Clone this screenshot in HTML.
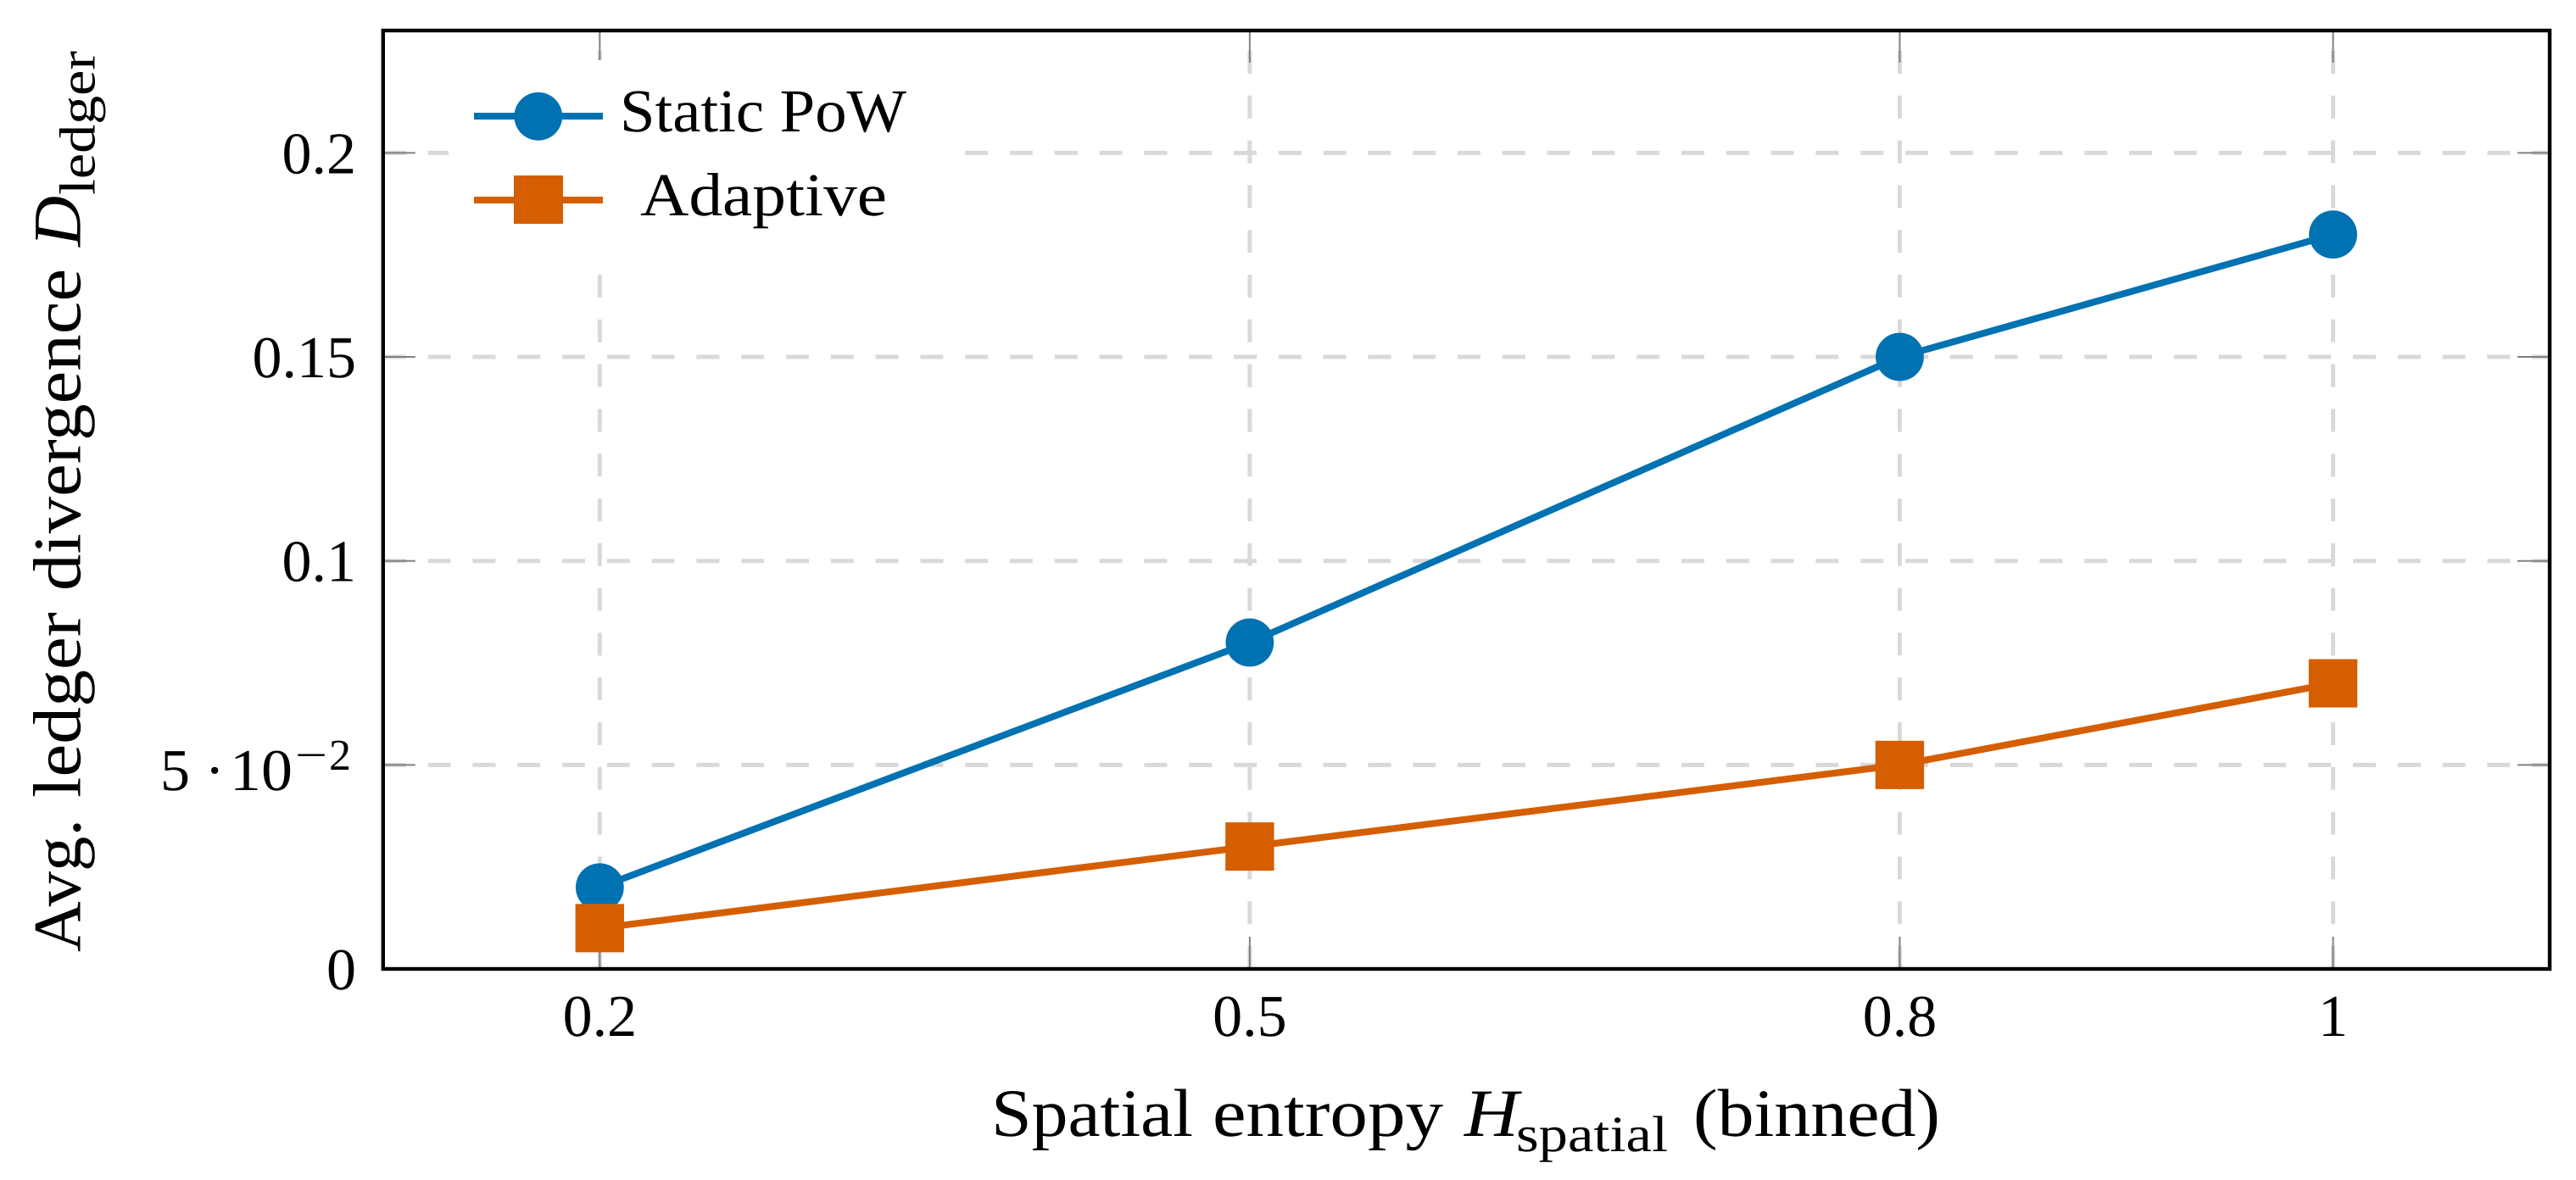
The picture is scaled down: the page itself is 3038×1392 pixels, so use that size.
<!DOCTYPE html>
<html lang="en">
<head>
<meta charset="utf-8">
<title>Average ledger divergence vs spatial entropy</title>
<style>
  html, body { margin: 0; padding: 0; background: #ffffff; }
  svg { display: block; }
  text { font-family: "Liberation Serif", "DejaVu Serif", serif; fill: #000000; text-rendering: geometricPrecision; }
  .it { font-style: italic; }
</style>
</head>
<body>
<svg id="chart" xmlns="http://www.w3.org/2000/svg" width="3038" height="1392" viewBox="0 0 3038 1392">
  <rect x="0" y="0" width="3038" height="1392" fill="#ffffff"/>
  <g id="grid"></g>
  <g id="ticks"></g>
  <g id="series"></g>

  <g>
    <rect x="529" y="71" width="586" height="230" fill="#ffffff"/>
    <g>
      <line x1="559" y1="137" x2="711" y2="137" stroke="#0072B2" stroke-width="8"/>
      <circle cx="634.8" cy="137.3" r="28.4" fill="#0072B2"/>
      <text x="731" y="155" font-size="72" textLength="338" lengthAdjust="spacingAndGlyphs">Static PoW</text>
    </g>
    <g>
      <line x1="559" y1="236" x2="711" y2="236" stroke="#D55E00" stroke-width="8"/>
      <rect x="606" y="207" width="58" height="57" fill="#D55E00"/>
      <text x="755" y="254" font-size="72" textLength="291" lengthAdjust="spacingAndGlyphs">Adaptive</text>
    </g>
  </g>

  <rect x="451.8" y="36" width="2555.2" height="1107" fill="none" stroke="#000000" stroke-width="4.4"/>
  <g id="tick-labels"></g>

  <text font-size="80" y="1340"><tspan x="1169" textLength="238" lengthAdjust="spacingAndGlyphs">Spatial</tspan> <tspan x="1430" textLength="272" lengthAdjust="spacingAndGlyphs">entropy</tspan> <tspan class="it" x="1727" textLength="64" lengthAdjust="spacingAndGlyphs">H</tspan><tspan x="1788" y="1358" font-size="60" textLength="179" lengthAdjust="spacingAndGlyphs">spatial</tspan> <tspan x="1997" y="1340" textLength="291" lengthAdjust="spacingAndGlyphs">(binned)</tspan></text>

  <text font-size="80" transform="rotate(-90)" y="94.5"><tspan x="-1123" textLength="157" lengthAdjust="spacingAndGlyphs">Avg.</tspan> <tspan x="-941" textLength="219" lengthAdjust="spacingAndGlyphs">ledger</tspan> <tspan x="-697" textLength="380" lengthAdjust="spacingAndGlyphs">divergence</tspan> <tspan class="it" x="-291" textLength="60" lengthAdjust="spacingAndGlyphs">D</tspan><tspan x="-230" y="111.7" font-size="60" textLength="170" lengthAdjust="spacingAndGlyphs">ledger</tspan></text>
</svg>

<script>
const categories = [0.2, 0.5, 0.8, 1];
const staticPow = [0.02, 0.08, 0.15, 0.18];
const adaptive = [0.01, 0.03, 0.05, 0.07];
const xTickLabels = ["0.2", "0.5", "0.8", "1"];
const yTicks = [0, 0.05, 0.1, 0.15, 0.2];
const yTickLabels = ["0", "5·10^-2", "0.1", "0.15", "0.2"];

const NS = "http://www.w3.org/2000/svg";
const plot = { left: 451.8, right: 3007, top: 36, bottom: 1143 };
const xDomain = [0.1, 1.1];
const yDomain = [0, 0.23];
const BLUE = "#0072B2";
const ORANGE = "#D55E00";
const TICK_LEN = 38;

function xScale(v) {
  return plot.left + (v - xDomain[0]) / (xDomain[1] - xDomain[0]) * (plot.right - plot.left);
}
function yScale(v) {
  return plot.bottom - (v - yDomain[0]) / (yDomain[1] - yDomain[0]) * (plot.bottom - plot.top);
}
function make(parent, tag, attrs, content) {
  const node = document.createElementNS(NS, tag);
  Object.keys(attrs).forEach(function (k) { node.setAttribute(k, attrs[k]); });
  if (content !== undefined) node.textContent = content;
  parent.appendChild(node);
  return node;
}

const gridG = document.getElementById("grid");
const ticksG = document.getElementById("ticks");
const seriesG = document.getElementById("series");
const labelsG = document.getElementById("tick-labels");

categories.forEach(function (c) {
  const x = xScale(c);
  const gl = make(gridG, "line", { x1: x, y1: plot.bottom, x2: x, y2: plot.top, stroke: "#d9d9d9", "stroke-width": 5, "stroke-dasharray": "27 25.8" });
  
  
  const tb = make(ticksG, "line", { x1: x, y1: plot.bottom, x2: x, y2: plot.bottom - TICK_LEN, stroke: "#808080", "stroke-width": 2 });
  
  
  const tt = make(ticksG, "line", { x1: x, y1: plot.top, x2: x, y2: plot.top + TICK_LEN, stroke: "#808080", "stroke-width": 2 });
  
  
});

yTicks.forEach(function (v) {
  const y = yScale(v);
  if (v > yDomain[0]) {
    const gl = make(gridG, "line", { x1: plot.left, y1: y, x2: plot.right, y2: y, stroke: "#d9d9d9", "stroke-width": 5, "stroke-dasharray": "27 25.8" });
    
    
    const tl = make(ticksG, "line", { x1: plot.left, y1: y, x2: plot.left + TICK_LEN, y2: y, stroke: "#808080", "stroke-width": 2 });
    
    
    const tr = make(ticksG, "line", { x1: plot.right, y1: y, x2: plot.right - TICK_LEN, y2: y, stroke: "#808080", "stroke-width": 2 });
    
    
  }
});

function drawLine(values, color, name) {
  const pts = values.map(function (v, i) { return xScale(categories[i]) + "," + yScale(v); }).join(" ");
  const line = make(seriesG, "polyline", { points: pts, fill: "none", stroke: color, "stroke-width": 8, "stroke-linejoin": "round" });
  
  
}

drawLine(staticPow, BLUE, 'series-line-static-pow');
staticPow.forEach(function (v, i) {
  const m = make(seriesG, "circle", { cx: xScale(categories[i]), cy: yScale(v), r: 28.4, fill: BLUE });
  
  
});

drawLine(adaptive, ORANGE, 'series-line-adaptive');
adaptive.forEach(function (v, i) {
  const m = make(seriesG, "rect", { x: xScale(categories[i]) - 28.7, y: yScale(v) - 28.5, width: 57.4, height: 57, fill: ORANGE });
  
  
});

xTickLabels.forEach(function (label, i) {
  const t = make(labelsG, "text", { x: xScale(categories[i]), y: 1222, "font-size": 70, "text-anchor": "middle" }, label);
  
  
});

function drawSciLabel(label, y) {
  const parts = label.split("^");
  const base = parts[0].split("·");
  const baseline = y + 29.5;
  const right = 420;
  const g = make(labelsG, "text", { y: baseline, "font-size": 70 });
  
  
  make(g, "tspan", { x: right - 231 }, base[0]);
  make(g, "tspan", { x: right - 178.5 }, "·");
  make(g, "tspan", { x: right - 149, textLength: 74, lengthAdjust: "spacingAndGlyphs" }, base[1]);
  const exp = parts[1].replace("-", "\u2212");
  make(g, "tspan", { x: right - 72, y: baseline - 24, "font-size": 52, textLength: 38, lengthAdjust: "spacingAndGlyphs" }, exp.charAt(0));
  make(g, "tspan", { x: right - 32, y: baseline - 24, "font-size": 52 }, exp.slice(1));
}

yTickLabels.forEach(function (label, i) {
  const y = yScale(yTicks[i]);
  if (label.indexOf("^") >= 0) {
    drawSciLabel(label, y);
  } else {
    const t = make(labelsG, "text", { x: 420, y: y + 24, "font-size": 70, "text-anchor": "end" }, label);
    
    
  }
});
</script>
</body>
</html>
